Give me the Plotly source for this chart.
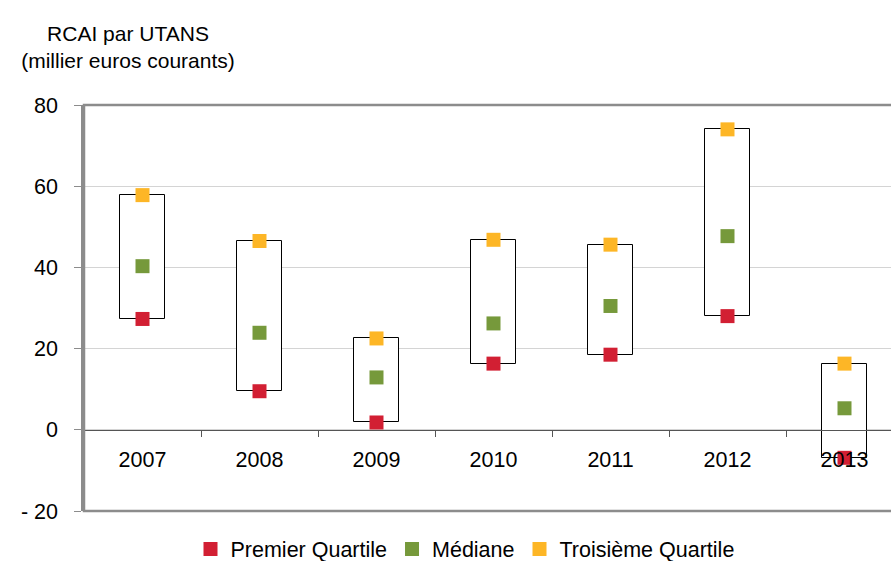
import plotly.graph_objects as go

years = ["2007", "2008", "2009", "2010", "2011", "2012", "2013"]
q1 = [27.3, 9.5, 1.8, 16.3, 18.5, 28.0, -6.9]
median = [40.3, 23.9, 12.9, 26.2, 30.5, 47.7, 5.3]
q3 = [57.8, 46.5, 22.5, 46.8, 45.6, 74.0, 16.3]
ytickvals = [-20, 0, 20, 40, 60, 80]
yticktext = ["- 20", "0", "20", "40", "60", "80"]

FONT = "Liberation Sans, Arial, sans-serif"
FS = 21.5
W, H = 891, 561
ML, MT, MB = 84, 105, 50
band = 117.0
plot_w = W - ML
xmax = -0.5 + plot_w / band

fig = go.Figure()

fig.add_trace(go.Bar(
    x=years, y=[b - a for a, b in zip(q1, q3)], base=q1,
    width=0.39, marker=dict(color="white", line=dict(color="black", width=1)),
    showlegend=False, hoverinfo="skip",
))

for name, vals, col in [
    ("Premier Quartile", q1, "#D21F33"),
    ("Médiane", median, "#76993B"),
    ("Troisième Quartile", q3, "#FDB626"),
]:
    fig.add_trace(go.Scatter(
        x=years, y=vals, mode="markers", name=name,
        marker=dict(symbol="square", size=14, color=col, line=dict(width=0)),
    ))

fig.update_layout(
    template="none",
    width=W, height=H,
    margin=dict(l=ML, r=0, t=MT, b=MB, autoexpand=False),
    paper_bgcolor="white", plot_bgcolor="white",
    font=dict(family=FONT, size=FS, color="black"),
    showlegend=True,
    legend=dict(orientation="h", x=465 / W, xanchor="center", xref="container",
                y=1 - 549 / H, yanchor="middle", yref="container",
                font=dict(size=FS), itemwidth=30, traceorder="normal"),
    title=dict(text="RCAI par UTANS<br>(millier euros courants)",
               x=128 / W, xanchor="center", xref="container",
               y=1 - 41 / H, yanchor="top", yref="container",
               font=dict(size=21, family=FONT, color="black")),
    xaxis=dict(
        type="category", range=[-0.5, xmax],
        anchor="free", position=0.2, automargin=False,
        showline=True, linecolor="#555555", linewidth=1,
        ticks="outside", ticklen=6, tickcolor="#555555", tickwidth=1,
        tickson="boundaries", showgrid=False, zeroline=False,
        ticklabelstandoff=10,
    ),
    yaxis=dict(
        range=[-20, 80], tickvals=ytickvals, ticktext=yticktext,
        automargin=False,
        showgrid=True, gridcolor="#D4D4D4", gridwidth=1,
        showline=True, linecolor="#8C8C8C", linewidth=2.5,
        ticks="outside", ticklen=7, tickcolor="#8C8C8C", tickwidth=1,
        zeroline=False, ticklabelstandoff=12,
    ),
    shapes=[dict(type="rect", xref="paper", yref="paper", x0=0, x1=1.05, y0=0, y1=1,
                 line=dict(color="#8C8C8C", width=2.5), layer="above")],
    bargap=0,
)

fig.write_html(
    "out.html",
    config={"displayModeBar": False},
    post_script="document.body.style.margin='0';document.body.style.overflow='hidden';",
)
